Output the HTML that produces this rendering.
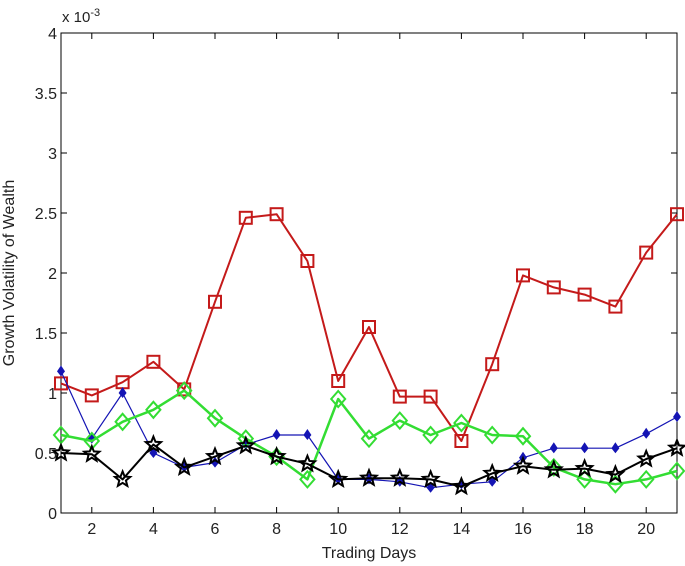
<!DOCTYPE html>
<html><head><meta charset="utf-8"><style>
body{margin:0;background:#fff;}
svg{display:block;font-family:"Liberation Sans",sans-serif;}
</style></head><body>
<svg id="chart" width="685" height="566"></svg>
<script>
const days=[1,2,3,4,5,6,7,8,9,10,11,12,13,14,15,16,17,18,19,20,21];
const redSeries=[1.08,0.98,1.09,1.26,1.03,1.76,2.46,2.49,2.10,1.10,1.55,0.97,0.97,0.60,1.24,1.98,1.88,1.82,1.72,2.17,2.49];
const blueSeries=[1.18,0.62,1.00,0.50,0.38,0.42,0.57,0.65,0.65,0.28,0.28,0.26,0.21,0.24,0.26,0.46,0.54,0.54,0.54,0.66,0.80];
const greenSeries=[0.65,0.60,0.76,0.86,1.02,0.79,0.62,0.47,0.28,0.95,0.62,0.77,0.65,0.75,0.65,0.64,0.38,0.28,0.24,0.28,0.35];
const blackSeries=[0.50,0.49,0.28,0.57,0.38,0.47,0.56,0.47,0.41,0.28,0.29,0.29,0.28,0.22,0.33,0.39,0.36,0.37,0.32,0.45,0.54];
const xTicks=[2,4,6,8,10,12,14,16,18,20];
const yTicks=[0,0.5,1,1.5,2,2.5,3,3.5,4];
const yTickLabels=["0","0.5","1","1.5","2","2.5","3","3.5","4"];

const L=61,R=677,T=33,B=513;
const X=d=>L+(d-1)/(20)*(R-L);
const Y=v=>B-v/4*(B-T);
const svg=document.getElementById('chart');
const NS='http://www.w3.org/2000/svg';
function mk(tag,attrs,parent){const e=document.createElementNS(NS,tag);for(const k in attrs)e.setAttribute(k,attrs[k]);(parent||svg).appendChild(e);return e;}

const frame=mk('rect',{x:L,y:T,width:R-L,height:B-T,fill:'#fff',stroke:'#000','stroke-width':1});



xTicks.forEach(t=>{
  const x=X(t);
  const tk=mk('path',{d:`M${x},${B}V${B-6}M${x},${T}V${T+6}`,stroke:'#000','stroke-width':1});
  
  
  const lb=mk('text',{x:x,y:B+21,'text-anchor':'middle','font-size':16,fill:'#222'});
  lb.textContent=t;
  
  
});
yTicks.forEach((t,i)=>{
  const y=Y(t);
  const tk=mk('path',{d:`M${L},${y}H${L+6}M${R},${y}H${R-6}`,stroke:'#000','stroke-width':1});
  
  
  const lb=mk('text',{x:L-4,y:y+6,'text-anchor':'end','font-size':16,fill:'#222'});
  lb.textContent=yTickLabels[i];
  
  
});
const ex=mk('text',{x:62,y:22,'font-size':15,fill:'#222'});
ex.innerHTML='x 10<tspan dy="-6" font-size="11">-3</tspan>';


const xt=mk('text',{x:(L+R)/2,y:558,'text-anchor':'middle','font-size':16,fill:'#222'});
xt.textContent='Trading Days';


const yt=mk('text',{x:14,y:(T+B)/2,'text-anchor':'middle','font-size':16,fill:'#222',transform:`rotate(-90 14 ${(T+B)/2})`});
yt.textContent='Growth Volatility of Wealth';



function series(vals,color,w,marker,name){
  const g=mk('g',{});
  
  
  mk('polyline',{points:vals.map((v,i)=>X(days[i])+','+Y(v)).join(' '),fill:'none',stroke:color,'stroke-width':w,'stroke-linejoin':'round'},g);
  vals.forEach((v,i)=>{
    const x=X(days[i]),y=Y(v);let m;
    if(marker==='square')m=mk('rect',{x:x-6,y:y-6,width:12,height:12,fill:'none',stroke:color,'stroke-width':2},g);
    else if(marker==='diamond')m=mk('path',{d:`M${x},${y-8}L${x+7},${y}L${x},${y+8}L${x-7},${y}Z`,fill:'none',stroke:color,'stroke-width':2},g);
    else if(marker==='dot')m=mk('path',{d:`M${x},${y-6}L${x+4},${y}L${x},${y+5}L${x-4},${y}Z`,fill:color},g);
    else {let d='';for(let k=0;k<10;k++){const r=k%2?3.5:8,a=-Math.PI/2+k*Math.PI/5;d+=(k?'L':'M')+(x+r*Math.cos(a))+','+(y+r*Math.sin(a));}
      m=mk('path',{d:d+'Z',fill:'none',stroke:color,'stroke-width':2},g);}
    
    
  });
}
series(redSeries,'#c41a1a',2,'square','red-series');
series(blueSeries,'#1414b4',1.2,'dot','blue-series');
series(greenSeries,'#33dd33',2.5,'diamond','green-series');
series(blackSeries,'#000',2,'star','black-series');
</script>
</body></html>
